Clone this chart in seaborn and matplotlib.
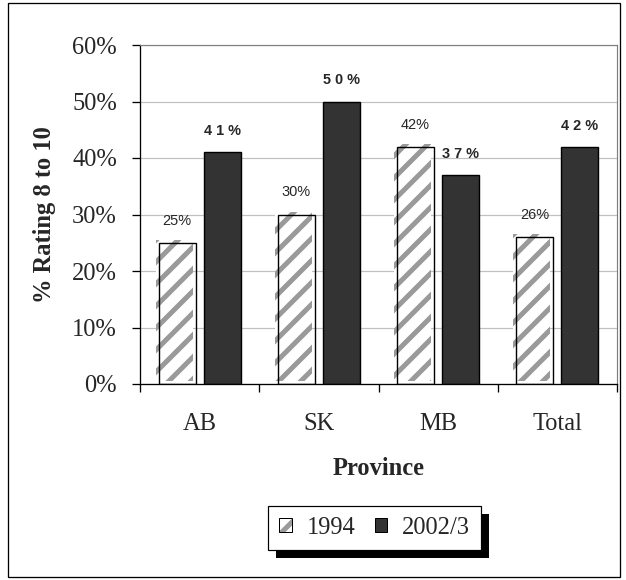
import matplotlib
matplotlib.use("Agg")
import matplotlib.pyplot as plt
from matplotlib.patches import Rectangle
from matplotlib.transforms import ScaledTranslation
from matplotlib.legend_handler import HandlerTuple
import seaborn as sns
import pandas as pd

provinces = ["AB", "SK", "MB", "Total"]
years = ["1994", "2002/3"]
rating_1994 = [25, 30, 42, 26]
rating_2002 = [41, 50, 37, 42]
y_ticks = [0, 10, 20, 30, 40, 50, 60]

DPI = 132
W, H = 626, 580
HATCH_GRAY = "#9a9a9a"
DARK = "#333333"


def pt(px):
    return px * 72.0 / DPI


sns.set_theme(style="white")
plt.rcParams["font.family"] = ["Liberation Serif", "DejaVu Serif"]
plt.rcParams["hatch.linewidth"] = pt(5)

df = pd.DataFrame({
    "Province": provinces * 2,
    "Year": [years[0]] * len(provinces) + [years[1]] * len(provinces),
    "Value": rating_1994 + rating_2002,
})

fig = plt.figure(figsize=(W / DPI, H / DPI), dpi=DPI)
fig.patch.set_facecolor("white")
ax = fig.add_axes([140 / W, 1 - 384 / H, (617 - 140) / W, (384 - 45) / H])

sns.barplot(data=df, x="Province", y="Value", hue="Year", order=provinces,
            hue_order=years, palette=["white", DARK], width=0.755,
            gap=0.18, ax=ax, legend=False, saturation=1)

ax.set_ylim(0, 60)
ax.set_xlim(-0.5, len(provinces) - 0.5)

hatched, solid = ax.containers[0], ax.containers[1]
# hatch fill sits slightly up-left of its outline
shift = ScaledTranslation(-3 / DPI, 3 / DPI, fig.dpi_scale_trans)
for bar in hatched:
    bar.set_facecolor("white")
    bar.set_edgecolor(HATCH_GRAY)
    bar.set_hatch("//")
    bar.set_linewidth(0)
    bar.set_transform(ax.transData + shift)
    bar.set_clip_on(False)
    x0, y0 = bar.get_xy()
    ax.add_patch(Rectangle((x0, y0), bar.get_width(), bar.get_height(),
                           facecolor="none", edgecolor="black",
                           linewidth=pt(1.4), zorder=bar.get_zorder() + 0.1))
for bar in solid:
    bar.set_facecolor(DARK)
    bar.set_edgecolor("black")
    bar.set_linewidth(pt(1.4))

# value labels above bars
label_font = ["Liberation Sans", "DejaVu Sans"]
for bar, v in zip(hatched, rating_1994):
    ax.annotate(f"{v}%", (bar.get_x() + bar.get_width() / 2, v),
                xytext=(0, pt(15)), textcoords="offset points",
                ha="center", va="bottom", fontsize=pt(14.5), family=label_font)
for bar, v in zip(solid, rating_2002):
    ax.annotate(" ".join(f"{v}%"), (bar.get_x() + bar.get_width() / 2, v),
                xytext=(0, pt(14)), textcoords="offset points",
                ha="center", va="bottom", fontsize=pt(14.5),
                fontweight="bold", family=label_font)

# gridlines and frame
ax.set_yticks(y_ticks)
ax.set_yticklabels([f"{t}%" for t in y_ticks], fontsize=pt(24.5))
ax.yaxis.grid(True, color="#c0c0c0", linewidth=pt(1.2))
ax.set_axisbelow(True)
for side in ("top", "right"):
    ax.spines[side].set_visible(True)
    ax.spines[side].set_color("#808080")
    ax.spines[side].set_linewidth(pt(1.2))
for side in ("left", "bottom"):
    ax.spines[side].set_color("black")
    ax.spines[side].set_linewidth(pt(1.3))

ax.tick_params(axis="y", direction="out", length=pt(8), width=pt(1.3),
               color="black", pad=pt(15), left=True)
# category labels centered, tick marks at category boundaries
ax.set_xticks(range(len(provinces)))
ax.set_xticklabels(provinces, fontsize=pt(24.5))
ax.tick_params(axis="x", which="major", length=0, pad=pt(29))
ax.set_xticks([i - 0.5 for i in range(len(provinces) + 1)], minor=True)
ax.tick_params(axis="x", which="minor", direction="out", length=pt(8),
               width=pt(1.3), color="black", bottom=True)

ax.set_xlabel("Province", fontsize=pt(24.5), fontweight="bold",
              labelpad=pt(22))
ax.set_ylabel("% Rating 8 to 10", fontsize=pt(24.5), fontweight="bold",
              labelpad=pt(16))

# legend with a drop shadow
h1_fill = Rectangle((0, 0), 1, 1, facecolor="white", edgecolor=HATCH_GRAY,
                    hatch="//", linewidth=0)
h1_edge = Rectangle((0, 0), 1, 1, facecolor="none", edgecolor="black",
                    linewidth=pt(1))
h2 = Rectangle((0, 0), 1, 1, facecolor=DARK, edgecolor="black",
               linewidth=pt(1))
leg = fig.legend([(h1_fill, h1_edge), h2], years, loc="center",
                 bbox_to_anchor=(374.5 / W, 1 - 528 / H), ncol=2,
                 fontsize=pt(24.5), frameon=True, fancybox=False,
                 handlelength=0.5, handleheight=0.5, handletextpad=0.6,
                 columnspacing=0.8, borderpad=0.45, borderaxespad=0,
                 edgecolor="black", framealpha=1,
                 handler_map={tuple: HandlerTuple(ndivide=1)})
leg.get_frame().set_linewidth(pt(1.2))

fig.canvas.draw()
bb = leg.get_window_extent()
off = 8
fig.patches.append(Rectangle(((bb.x0 + off) / W, (bb.y0 - off) / H),
                             bb.width / W, bb.height / H,
                             transform=fig.transFigure, facecolor="black",
                             edgecolor="none", zorder=0))
leg.set_zorder(5)

# outer border
fig.patches.append(Rectangle((8 / W, 3 / H), (620 - 8) / W, (577 - 3) / H,
                             transform=fig.transFigure, facecolor="none",
                             edgecolor="black", linewidth=pt(1.3), zorder=0))

fig.savefig("out.png", dpi=DPI)
